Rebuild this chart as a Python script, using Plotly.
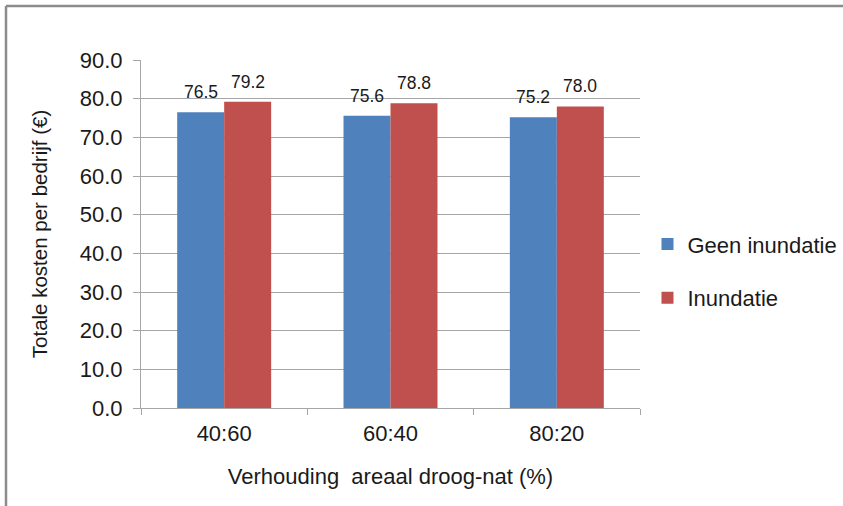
import plotly.graph_objects as go

categories = ["40:60", "60:40", "80:20"]
geen_inundatie = [76.5, 75.6, 75.2]
inundatie = [79.2, 78.8, 78.0]
series_names = ["Geen inundatie", "Inundatie"]
colors = ["#4F81BD", "#C0504D"]
y_ticks = [0, 10, 20, 30, 40, 50, 60, 70, 80, 90]

W, H = 843, 506
ml, mr, mt, mb = 141, 203, 60, 98
plot_w = W - ml - mr
plot_h = H - mt - mb
bargap = 0.435
bar_px = plot_w / len(categories) * (1 - bargap) / 2

fig = go.Figure()
for i, (name, vals) in enumerate(zip(series_names, [geen_inundatie, inundatie])):
    fig.add_trace(go.Bar(
        x=categories, y=vals, name=name, marker=dict(color=colors[i], line=dict(width=0)),
        legendgroup=name,
    ))
    for c, v in zip(categories, vals):
        fig.add_annotation(
            x=c, y=v, xref="x", yref="y", text=f"{v:.1f}", showarrow=False,
            xshift=(-0.5 if i == 0 else 0.5) * bar_px, yshift=8, yanchor="bottom",
            font=dict(family="Liberation Sans, Arial", size=17.5, color="#1a1a1a"),
        )

axis_gray = "#A6A6A6"
fig.update_layout(
    width=W, height=H,
    margin=dict(l=ml, r=mr, t=mt, b=mb, pad=0, autoexpand=False),
    paper_bgcolor="white", plot_bgcolor="white",
    barmode="group", bargap=bargap, bargroupgap=0,
    font=dict(family="Liberation Sans, Arial", size=22, color="#1a1a1a"),
    showlegend=True,
    legend=dict(
        x=1.015, xanchor="left", y=0.393, yanchor="middle",
        traceorder="grouped", tracegroupgap=22,
        font=dict(size=22, color="#1a1a1a"),
        bgcolor="rgba(0,0,0,0)", itemwidth=30,
    ),
    xaxis=dict(
        title=dict(text="Verhouding  areaal droog-nat (%)", standoff=23,
                   font=dict(size=22)),
        showline=True, linecolor=axis_gray, linewidth=1,
        ticks="outside", tickson="boundaries", ticklen=6, tickcolor=axis_gray,
        tickfont=dict(size=22), showgrid=False, automargin=False,
        ticklabelstandoff=6,
    ),
    yaxis=dict(
        title=dict(text="Totale kosten per bedrijf (€)", standoff=26,
                   font=dict(size=20.5)),
        range=[0, 90], tickvals=y_ticks, tickformat=".1f",
        showline=True, linecolor=axis_gray, linewidth=1,
        ticks="outside", ticklen=7, tickcolor=axis_gray,
        showgrid=True, gridcolor=axis_gray, gridwidth=1,
        zeroline=False, tickfont=dict(size=22), automargin=False,
        ticklabelstandoff=6,
    ),
)

# outer chart border: only the top and left edges are visible in the frame
bx0 = (6 - ml) / plot_w
bx1 = (W - ml) / plot_w
by0 = -mb / plot_h
by1 = 1 + (mt - 6) / plot_h
border = dict(color="#8C8C8C", width=2.5)
fig.add_shape(type="line", xref="paper", yref="paper",
              x0=bx0, x1=bx1, y0=by1, y1=by1, line=border, layer="below")
fig.add_shape(type="line", xref="paper", yref="paper",
              x0=bx0, x1=bx0, y0=by0, y1=by1, line=border, layer="below")

fig.write_html(
    "out.html", config={"displayModeBar": False},
    post_script=("document.body.style.margin='0';"
                 "document.body.style.overflow='hidden';"
                 "document.documentElement.style.overflow='hidden';"),
)
